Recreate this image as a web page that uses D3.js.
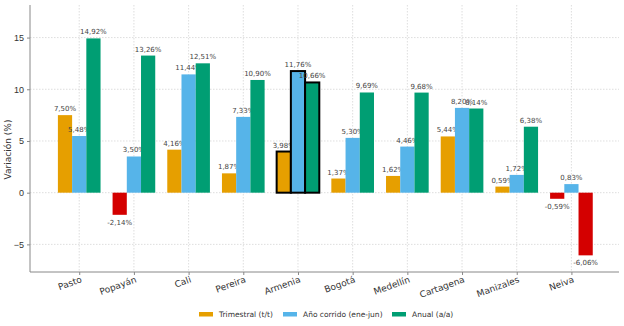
<!DOCTYPE html>
<html>
<head>
<meta charset="utf-8">
<script src="https://cdn.jsdelivr.net/npm/d3@7"></script>
<style>
  body { margin: 0; background: #fff; }
  svg { font-family: 'DejaVu Sans', sans-serif; }
</style>
</head>
<body>
<svg id="chart"></svg>
<script>
var cities = ['Pasto', 'Popayán', 'Cali', 'Pereira', 'Armenia', 'Bogotá', 'Medellín', 'Cartagena', 'Manizales', 'Neiva']
var trimestral = [7.50, -2.14, 4.16, 1.87, 3.98, 1.37, 1.62, 5.44, 0.59, -0.59]
var anoCorrido = [5.48, 3.50, 11.44, 7.33, 11.76, 5.30, 4.46, 8.20, 1.72, 0.83]
var anual = [14.92, 13.26, 12.51, 10.90, 10.66, 9.69, 9.68, 8.14, 6.38, -6.06]
var seriesNames = ['Trimestral (t/t)', 'Año corrido (ene-jun)', 'Anual (a/a)']
var seriesColors = ['#E69F00', '#56B4E9', '#009E73']
var negColor = '#D40000'
var yTicks = [-5, 0, 5, 10, 15]
var highlight = 'Armenia'

var chartWidth = 624, chartHeight = 326
var plotLeft = 30, plotRight = 619, plotTop = 5, plotBottom = 272
var barW = 0.26

var svg = d3.select('#chart').attr('width', chartWidth).attr('height', chartHeight)

var x = d3.scaleLinear().domain([-0.9, 9.87]).range([plotLeft, plotRight])
var y = d3.scaleLinear().domain([-7.67, 18.15]).range([plotBottom, plotTop])

// grid
var grid = svg.append('g')
grid.selectAll('.gy').data(yTicks).enter().append('line')
    .attr('x1', plotLeft).attr('x2', plotRight)
    .attr('y1', function (d) { return y(d) }).attr('y2', function (d) { return y(d) })
    .attr('stroke', '#d6d6d6').attr('stroke-dasharray', '1.5,1.5').attr('stroke-width', 0.8)
grid.selectAll('.gx').data(cities).enter().append('line')
    .attr('x1', function (d, i) { return x(i) }).attr('x2', function (d, i) { return x(i) })
    .attr('y1', plotTop).attr('y2', plotBottom)
    .attr('stroke', '#d6d6d6').attr('stroke-dasharray', '1.5,1.5').attr('stroke-width', 0.8)

// bars
var series = [trimestral, anoCorrido, anual]
series.forEach(function (vals, s) {
    var off = (s - 1) * barW
    var g = svg.append('g')
    g.selectAll('rect').data(vals).enter().append('rect')
        .attr('x', function (d, i) { return x(i + off - barW / 2) })
        .attr('width', x(barW) - x(0))
        .attr('y', function (d) { return y(Math.max(d, 0)) })
        .attr('height', function (d) { return Math.abs(y(d) - y(0)) })
        .attr('fill', function (d) { return d < 0 ? negColor : seriesColors[s] })
        .attr('stroke', function (d, i) { return cities[i] === highlight ? '#000' : 'none' })
        .attr('stroke-width', 2)
    g.selectAll('text').data(vals).enter().append('text')
        .attr('x', function (d, i) { return x(i + off) })
        .attr('y', function (d) { return d < 0 ? y(d) + 10 : y(d) - 4 })
        .attr('text-anchor', 'middle')
        .style('font-size', '7px')
        .attr('fill', '#444')
        .text(function (d) { return d.toFixed(2).replace('.', ',') + '%' })
})

// axes
var yAxis = d3.axisLeft(y).tickValues(yTicks).tickSize(3).tickPadding(3)
    .tickFormat(function (d) { return d < 0 ? '\u2212' + Math.abs(d) : d })
var gy = svg.append('g').attr('transform', 'translate(' + plotLeft + ',0)').call(yAxis)
gy.select('.domain').remove()
gy.selectAll('line').attr('stroke', '#888')
gy.selectAll('text').style('font-size', '9px').attr('fill', '#333')

var xAxis = d3.axisBottom(x).tickValues(d3.range(cities.length)).tickSize(3).tickFormat('')
var gx = svg.append('g').attr('transform', 'translate(0,' + plotBottom + ')').call(xAxis)
gx.select('.domain').remove()
gx.selectAll('line').attr('stroke', '#888')

svg.append('line').attr('x1', plotLeft).attr('x2', plotLeft).attr('y1', plotTop).attr('y2', plotBottom)
    .attr('stroke', '#888').attr('stroke-width', 1)
svg.append('line').attr('x1', plotLeft).attr('x2', plotRight).attr('y1', plotBottom).attr('y2', plotBottom)
    .attr('stroke', '#888').attr('stroke-width', 1)

svg.append('g').selectAll('text').data(cities).enter().append('text')
    .attr('transform', function (d, i) { return 'translate(' + (x(i) + 1) + ',' + (plotBottom + 4) + ') rotate(-20)' })
    .attr('text-anchor', 'end')
    .attr('dy', '0.7em')
    .style('font-size', '9px')
    .attr('fill', '#333')
    .text(function (d) { return d })

svg.append('text')
    .attr('transform', 'translate(11,' + ((plotTop + plotBottom) / 2 + 11) + ') rotate(-90)')
    .attr('text-anchor', 'middle')
    .style('font-size', '9px')
    .attr('fill', '#333')
    .text('Variación (%)')

// legend
var legX = [199, 283, 392]
var leg = svg.append('g')
seriesNames.forEach(function (name, s) {
    leg.append('rect').attr('x', legX[s]).attr('y', 312).attr('width', 14).attr('height', 4.5)
        .attr('fill', seriesColors[s])
    leg.append('text').attr('x', legX[s] + 20).attr('y', 317)
        .style('font-size', '7.5px').attr('fill', '#333').text(name)
})
</script>
</body>
</html>
